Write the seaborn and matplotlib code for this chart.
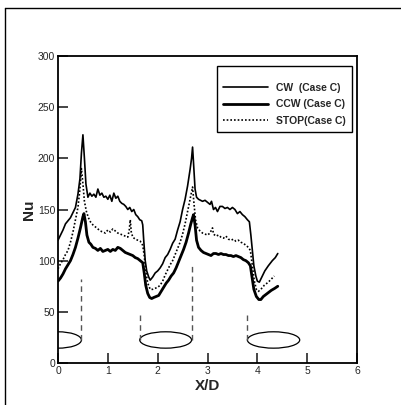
import numpy as np
import pandas as pd
import matplotlib
matplotlib.use("Agg")
import matplotlib.pyplot as plt
from matplotlib.patches import Ellipse, Rectangle
from matplotlib.lines import Line2D
import seaborn as sns

# ---------------- data ----------------
cw_x = [0.00, 0.05, 0.10, 0.15, 0.20, 0.25, 0.30, 0.35, 0.40, 0.44, 0.47, 0.50, 0.53, 0.56,
        0.60, 0.64, 0.68, 0.72, 0.76, 0.80, 0.84, 0.88, 0.92, 0.96, 1.00, 1.04, 1.08, 1.12,
        1.16, 1.20, 1.24, 1.28, 1.32, 1.36, 1.40, 1.44, 1.48, 1.52, 1.56, 1.60, 1.64, 1.68,
        1.70, 1.72, 1.75, 1.78, 1.82, 1.85, 1.90, 1.95, 2.00, 2.05, 2.10, 2.15, 2.20, 2.25,
        2.30, 2.35, 2.40, 2.45, 2.50, 2.55, 2.60, 2.65, 2.68, 2.70, 2.72, 2.75, 2.78, 2.82,
        2.86, 2.90, 2.95, 3.00, 3.05, 3.08, 3.12, 3.16, 3.20, 3.25, 3.30, 3.35, 3.40, 3.45,
        3.50, 3.55, 3.60, 3.65, 3.70, 3.75, 3.80, 3.84, 3.87, 3.90, 3.93, 3.97, 4.00, 4.04,
        4.08, 4.15, 4.22, 4.30, 4.36, 4.41]
cw_nu = [120, 125, 130, 136, 139, 142, 147, 152, 165, 180, 205, 223, 200, 175,
         162, 166, 163, 165, 162, 170, 164, 166, 162, 163, 160, 164, 158, 166,
         161, 163, 158, 156, 155, 153, 150, 152, 148, 150, 145, 143, 140, 139,
         135, 120, 100, 90, 84, 81, 84, 88, 90, 93, 97, 103, 106, 111,
         117, 121, 130, 138, 150, 160, 173, 189, 200, 211, 195, 170, 162, 160,
         159, 158, 159, 157, 155, 158, 150, 152, 148, 153, 153, 151, 152, 150,
         152, 150, 146, 148, 145, 143, 140, 138, 125, 110, 95, 85, 80, 79,
         83, 90, 95, 100, 103, 107]

ccw_x = [0.00, 0.05, 0.10, 0.15, 0.20, 0.25, 0.30, 0.35, 0.40, 0.45, 0.50, 0.52, 0.55, 0.58,
         0.62, 0.66, 0.70, 0.75, 0.80, 0.85, 0.90, 0.95, 1.00, 1.05, 1.10, 1.15, 1.20, 1.25,
         1.30, 1.35, 1.40, 1.45, 1.50, 1.55, 1.60, 1.65, 1.70, 1.73, 1.76, 1.80, 1.84, 1.88,
         1.92, 1.97, 2.02, 2.07, 2.12, 2.17, 2.22, 2.27, 2.32, 2.37, 2.42, 2.47, 2.52, 2.57,
         2.62, 2.66, 2.70, 2.72, 2.75, 2.78, 2.82, 2.87, 2.92, 2.97, 3.02, 3.07, 3.12, 3.17,
         3.22, 3.27, 3.32, 3.37, 3.42, 3.47, 3.52, 3.57, 3.62, 3.67, 3.72, 3.77, 3.82, 3.86,
         3.89, 3.93, 3.98, 4.03, 4.07, 4.12, 4.20, 4.28, 4.35, 4.41]
ccw_nu = [80, 83, 87, 92, 96, 100, 106, 113, 122, 132, 143, 146, 138, 125,
          118, 116, 113, 112, 110, 112, 109, 110, 111, 109, 111, 110, 113, 112,
          110, 108, 107, 106, 105, 103, 102, 100, 98, 88, 76, 68, 64, 63,
          64, 65, 66, 70, 74, 78, 81, 85, 88, 93, 99, 105, 111, 118,
          127, 135, 142, 145, 135, 120, 113, 110, 108, 107, 106, 105, 107, 107,
          106, 107, 106, 106, 105, 105, 104, 105, 104, 103, 101, 100, 98, 95,
          85, 72, 65, 62, 62, 65, 68, 71, 73, 75]

stop_x = [0.00, 0.05, 0.10, 0.15, 0.20, 0.25, 0.30, 0.35, 0.40, 0.44, 0.47, 0.50, 0.53, 0.57,
          0.61, 0.65, 0.70, 0.75, 0.80, 0.85, 0.90, 0.95, 1.00, 1.05, 1.10, 1.15, 1.20, 1.25,
          1.30, 1.35, 1.40, 1.43, 1.45, 1.47, 1.50, 1.55, 1.60, 1.65, 1.70, 1.73, 1.76, 1.80,
          1.85, 1.90, 1.95, 2.00, 2.05, 2.10, 2.15, 2.20, 2.25, 2.30, 2.35, 2.40, 2.45, 2.50,
          2.55, 2.60, 2.65, 2.70, 2.73, 2.76, 2.80, 2.85, 2.90, 2.95, 3.00, 3.05, 3.10, 3.12,
          3.17, 3.22, 3.27, 3.32, 3.37, 3.42, 3.47, 3.52, 3.57, 3.62, 3.67, 3.72, 3.77, 3.82,
          3.86, 3.90, 3.94, 3.98, 4.02, 4.07, 4.14, 4.22, 4.28, 4.34]
stop_nu = [92, 97, 101, 106, 110, 118, 128, 140, 152, 170, 190, 175, 158, 148,
           142, 138, 135, 133, 131, 129, 128, 127, 130, 128, 131, 129, 127, 126,
           125, 124, 123, 130, 140, 128, 123, 121, 120, 119, 115, 105, 90, 78,
           72, 72, 73, 74, 76, 80, 86, 91, 96, 100, 106, 112, 118, 126,
           136, 148, 160, 172, 155, 140, 132, 129, 127, 126, 125, 127, 132, 126,
           124, 125, 123, 122, 124, 121, 120, 121, 119, 120, 118, 117, 115, 113,
           110, 95, 80, 72, 70, 72, 76, 79, 82, 85]

series_labels = ["CW  (Case C)", "CCW (Case C)", "STOP(Case C)"]

# cylinders (ellipses) and dashed guide lines
ell_cx = [0.0, 2.16, 4.325]
ell_w = [0.94, 1.04, 1.05]
ell_cy = 22.5
ell_h = 16
guide_x = [0.47, 1.65, 2.69, 3.80]
guide_top = [82, 50, 95, 47]

x_ticks = [0, 1, 2, 3, 4, 5, 6]
y_ticks = [0, 50, 100, 150, 200, 250, 300]

# ---------------- plot ----------------
sns.set_style("ticks")
plt.rcParams["font.family"] = ["Liberation Sans", "DejaVu Sans"]

fig = plt.figure(figsize=(4.02, 4.05), dpi=100)
ax = fig.add_axes([0.1443, 0.1037, 0.7438, 0.758])

df_cw = pd.DataFrame({"x": cw_x, "nu": cw_nu})
df_ccw = pd.DataFrame({"x": ccw_x, "nu": ccw_nu})
df_stop = pd.DataFrame({"x": stop_x, "nu": stop_nu})

sns.lineplot(data=df_cw, x="x", y="nu", ax=ax, color="black", linewidth=1.2,
             label=series_labels[0], estimator=None)
sns.lineplot(data=df_ccw, x="x", y="nu", ax=ax, color="black", linewidth=2.0,
             label=series_labels[1], estimator=None)
sns.lineplot(data=df_stop, x="x", y="nu", ax=ax, color="black", linewidth=1.2,
             linestyle=(0, (1, 1.2)), label=series_labels[2], estimator=None)

for cx, w in zip(ell_cx, ell_w):
    e = Ellipse((cx, ell_cy), w, ell_h, facecolor="none", edgecolor="black", linewidth=0.9)
    ax.add_patch(e)

for gx, gt in zip(guide_x, guide_top):
    ax.plot([gx, gx], [ell_cy, gt], color="#555555", linestyle=(0, (4, 3)), linewidth=1.0)

ax.set_xlim(0, 6)
ax.set_ylim(0, 300)
ax.set_xticks(x_ticks)
ax.set_yticks(y_ticks)
ax.tick_params(axis="both", which="major", direction="in", length=7, width=1.2,
               labelsize=7.5, pad=2)
for s in ax.spines.values():
    s.set_linewidth(1.3)
    s.set_color("black")

ax.set_xlabel("X/D", fontsize=11, fontweight="bold", labelpad=2)
ax.set_ylabel("Nu", fontsize=11, fontweight="bold", labelpad=1)

# legend: frame drawn separately for exact placement
leg = ax.legend(loc="upper left", bbox_to_anchor=(0.552, 0.913), frameon=False,
                handlelength=4.3, prop={"weight": "bold", "size": 7.5},
                borderpad=0, labelspacing=0.62, handletextpad=0.75, borderaxespad=0)
ax.add_patch(Rectangle((0.532, 0.752), 0.983 - 0.532, 0.967 - 0.752, transform=ax.transAxes,
                       facecolor="none", edgecolor="black", linewidth=1.0, zorder=5))

# outer frame
fig.add_artist(Line2D([5 / 402, 5 / 402], [0, 1 - 8 / 405], color="black", linewidth=1.0,
                      transform=fig.transFigure))
fig.add_artist(Line2D([5 / 402, 1.0], [1 - 8 / 405, 1 - 8 / 405], color="black", linewidth=1.0,
                      transform=fig.transFigure))

fig.savefig("out.png", dpi=100)
